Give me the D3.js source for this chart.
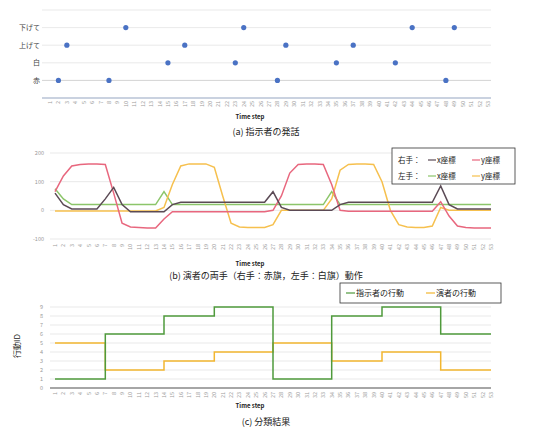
<!DOCTYPE html>
<html>
<head>
<meta charset="utf-8">
<script src="https://cdn.jsdelivr.net/npm/d3@7"></script>
<style>
  body { margin: 0; background: #fff; }
  text { font-family: "Noto Sans CJK JP", "Noto Sans", sans-serif; }
</style>
</head>
<body>
<script>
// time steps 1..53
var steps = d3.range(1, 54);

/* (a) instructor commands */
var commandLabels = ['赤', '白', '上げて', '下げて'];   // bottom -> top
var redSteps   = [2, 8, 28, 48];
var whiteSteps = [15, 23, 35, 42];
var upSteps    = [3, 17, 29, 37];
var downSteps  = [10, 24, 44, 49];

/* (b) performer hand coordinates */
var rightX = [60, 20, 5, 5, 5, 5, 40, 80, 20, -5, -5, -5, -5, -5, 20, 28, 28, 28, 28, 28, 28, 28, 28, 28, 28, 28,
              65, 10, 0, 0, 0, 0, 0, 0, 20, 28, 28, 28, 28, 28, 28, 28, 28, 28, 28, 28, 85, 20, 5, 5, 5, 5, 5];
var rightY = [65, 120, 155, 160, 162, 162, 160, 60, -45, -58, -60, -62, -62, -30, -5, -5, -5, -5, -5, -5, -5, -5, -5, -5, -5, -5,
              0, 50, 130, 160, 162, 162, 160, 90, 0, -3, -3, -3, -3, -3, -3, -3, -3, -3, -3, -3, 30, -20, -55, -60, -62, -62, -62];
var leftX  = [75, 40, 20, 20, 20, 20, 20, 20, 20, 20, 20, 20, 20, 65, 20, 20, 20, 20, 20, 20, 20, 20, 20, 20, 20, 20,
              20, 20, 20, 20, 20, 20, 20, 65, 20, 20, 20, 20, 20, 20, 20, 20, 20, 20, 20, 20, 20, 20, 20, 20, 20, 20, 20];
var leftY  = [-2, -2, -2, -2, -2, -2, -2, -2, -2, -2, -2, -2, -2, 10, 90, 155, 162, 162, 162, 150, 50, -45, -58, -60, -60, -60,
              -50, 0, 0, 0, 0, 0, 0, 40, 140, 160, 162, 162, 160, 100, 0, -50, -58, -60, -60, -55, 10, 0, 0, 0, 0, 0, 0];
var bTicks = [-100, 0, 100, 200];

/* (c) classification result */
var instructorAct = [1, 1, 1, 1, 1, 1, 6, 6, 6, 6, 6, 6, 6, 8, 8, 8, 8, 8, 8, 9, 9, 9, 9, 9, 9, 9,
                     1, 1, 1, 1, 1, 1, 1, 8, 8, 8, 8, 8, 8, 9, 9, 9, 9, 9, 9, 9, 6, 6, 6, 6, 6, 6, 6];
var performerAct  = [5, 5, 5, 5, 5, 5, 2, 2, 2, 2, 2, 2, 2, 3, 3, 3, 3, 3, 3, 4, 4, 4, 4, 4, 4, 4,
                     5, 5, 5, 5, 5, 5, 5, 3, 3, 3, 3, 3, 3, 4, 4, 4, 4, 4, 4, 4, 2, 2, 2, 2, 2, 2, 2];
var cTicks = d3.range(0, 10);

var svg = d3.select('body').append('svg').attr('width', 534).attr('height', 434);
svg.append('rect').attr('width', 534).attr('height', 434).attr('fill', '#fff');

var gridColor = '#e3e3e3';
var tickColor = '#9a9a9a';

function stepTicks(g, x, y0) {
    g.selectAll('text.step')
        .data(steps)
        .enter().append('text')
            .attr('class', 'step')
            .attr('transform', function(d) { return 'translate(' + (x(d) + 2) + ',' + y0 + ') rotate(-90)'; })
            .attr('text-anchor', 'end')
            .attr('font-size', 5.5)
            .attr('fill', tickColor)
            .text(function(d) { return d; });
}

function titles(g, yStep, yCap, caption) {
    g.append('text').attr('x', 250).attr('y', yStep).attr('text-anchor', 'middle')
        .attr('font-size', 6).attr('font-weight', 'bold').attr('fill', '#222').text('Time step');
    g.append('text').attr('x', 266).attr('y', yCap).attr('text-anchor', 'middle')
        .attr('font-size', 9).attr('fill', '#222').text(caption);
}

/*PANEL A*/
var xA = d3.scaleLinear().domain([1, 53]).range([50, 488]);
var yA = d3.scaleLinear().domain([0, 5]).range([98, 10]);
var ga = svg.append('g');

ga.selectAll('line.grid')
    .data([1, 2, 3, 4, 5])
    .enter().append('line')
        .attr('x1', 42).attr('x2', 491)
        .attr('y1', function(d) { return yA(d); }).attr('y2', function(d) { return yA(d); })
        .attr('stroke', function(d) { return d === 1 ? '#c8c8c8' : gridColor; })
        .attr('stroke-width', 0.8);
ga.append('line').attr('x1', 42).attr('x2', 491).attr('y1', yA(0)).attr('y2', yA(0))
    .attr('stroke', '#b9c3d6').attr('stroke-width', 1.5);

ga.selectAll('text.cat')
    .data(commandLabels)
    .enter().append('text')
        .attr('x', 40)
        .attr('y', function(d, i) { return yA(i + 1) + 2.5; })
        .attr('text-anchor', 'end')
        .attr('font-size', 7)
        .attr('fill', '#444')
        .text(function(d) { return d; });

var commandSets = [redSteps, whiteSteps, upSteps, downSteps];
commandSets.forEach(function(set, i) {
    ga.selectAll('circle.c' + i)
        .data(set)
        .enter().append('circle')
            .attr('cx', function(d) { return xA(d); })
            .attr('cy', yA(i + 1))
            .attr('r', 2.6)
            .attr('fill', '#4a72c4');
});
stepTicks(ga, xA, 101);
titles(ga, 119, 135, '(a) 指示者の発話');

/*PANEL B*/
var xB = d3.scaleLinear().domain([1, 53]).range([55, 491]);
var yB = d3.scaleLinear().domain([-100, 200]).range([239, 153]);
var gb = svg.append('g');

gb.selectAll('line.grid')
    .data(bTicks)
    .enter().append('line')
        .attr('x1', 50).attr('x2', 491)
        .attr('y1', function(d) { return yB(d); }).attr('y2', function(d) { return yB(d); })
        .attr('stroke', gridColor).attr('stroke-width', 0.8);
gb.selectAll('text.yt')
    .data(bTicks)
    .enter().append('text')
        .attr('x', 44)
        .attr('y', function(d) { return yB(d) + 2; })
        .attr('text-anchor', 'end')
        .attr('font-size', 5.5)
        .attr('fill', tickColor)
        .text(function(d) { return d; });

var bSeries = [
    { v: leftX,  c: '#8cc56a' },
    { v: leftY,  c: '#f6c04e' },
    { v: rightY, c: '#e8677e' },
    { v: rightX, c: '#5b4a55' }
];
var lineB = d3.line().x(function(d, i) { return xB(steps[i]); }).y(function(d) { return yB(d); });
gb.selectAll('path.s')
    .data(bSeries)
    .enter().append('path')
        .attr('d', function(d) { return lineB(d.v); })
        .attr('fill', 'none')
        .attr('stroke', function(d) { return d.c; })
        .attr('stroke-width', 1.5);
stepTicks(gb, xB, 244);
titles(gb, 266, 279, '(b) 演者の両手（右手：赤旗，左手：白旗）動作');

// legend b
gb.append('rect').attr('x', 392).attr('y', 148).attr('width', 123).attr('height', 36)
    .attr('fill', '#fff').attr('stroke', '#333').attr('stroke-width', 0.8);
var legB = [
    { hand: '右手：', items: [{ t: 'x座標', c: '#5b4a55' }, { t: 'y座標', c: '#e8677e' }] },
    { hand: '左手：', items: [{ t: 'x座標', c: '#8cc56a' }, { t: 'y座標', c: '#f6c04e' }] }
];
legB.forEach(function(row, r) {
    var yy = 160 + r * 16;
    gb.append('text').attr('x', 398).attr('y', yy + 3).attr('font-size', 7.5).attr('fill', '#222').text(row.hand);
    row.items.forEach(function(it, k) {
        var xx = 428 + k * 44;
        gb.append('line').attr('x1', xx).attr('x2', xx + 8).attr('y1', yy).attr('y2', yy)
            .attr('stroke', it.c).attr('stroke-width', 1.2);
        gb.append('text').attr('x', xx + 9).attr('y', yy + 3).attr('font-size', 7.5).attr('fill', '#222').text(it.t);
    });
});

/*PANEL C*/
var xC = d3.scaleLinear().domain([1, 53]).range([55, 491]);
var yC = d3.scaleLinear().domain([0, 9]).range([388, 307]);
var gc = svg.append('g');

gc.selectAll('line.grid')
    .data(cTicks.slice(1))
    .enter().append('line')
        .attr('x1', 50).attr('x2', 491)
        .attr('y1', function(d) { return yC(d); }).attr('y2', function(d) { return yC(d); })
        .attr('stroke', gridColor).attr('stroke-width', 0.8);
gc.append('line').attr('x1', 50).attr('x2', 491).attr('y1', yC(0)).attr('y2', yC(0))
    .attr('stroke', '#888').attr('stroke-width', 1.3);
gc.selectAll('text.yt')
    .data(cTicks)
    .enter().append('text')
        .attr('x', 43)
        .attr('y', function(d) { return yC(d) + 2; })
        .attr('text-anchor', 'end')
        .attr('font-size', 5.5)
        .attr('fill', tickColor)
        .text(function(d) { return d; });

var lineC = d3.line().curve(d3.curveStepAfter)
    .x(function(d, i) { return xC(steps[i]); }).y(function(d) { return yC(d); });
gc.append('path').attr('d', lineC(performerAct)).attr('fill', 'none')
    .attr('stroke', '#f2b630').attr('stroke-width', 1.5);
gc.append('path').attr('d', lineC(instructorAct)).attr('fill', 'none')
    .attr('stroke', '#4f9a3c').attr('stroke-width', 1.5);

gc.append('text')
    .attr('transform', 'translate(20,346) rotate(-90)')
    .attr('text-anchor', 'middle')
    .attr('font-size', 8)
    .attr('fill', '#222')
    .text('行動ID');
stepTicks(gc, xC, 392);
titles(gc, 408, 425, '(c) 分類結果');

// legend c
gc.append('rect').attr('x', 340).attr('y', 283).attr('width', 161).attr('height', 20)
    .attr('fill', '#fff').attr('stroke', '#333').attr('stroke-width', 0.8);
var legC = [{ t: '指示者の行動', c: '#4f9a3c' }, { t: '演者の行動', c: '#f2b630' }];
legC.forEach(function(it, k) {
    var xx = 346 + k * 80;
    gc.append('line').attr('x1', xx).attr('x2', xx + 9).attr('y1', 293).attr('y2', 293)
        .attr('stroke', it.c).attr('stroke-width', 1.2);
    gc.append('text').attr('x', xx + 10).attr('y', 296).attr('font-size', 8).attr('fill', '#222').text(it.t);
});
</script>
</body>
</html>
